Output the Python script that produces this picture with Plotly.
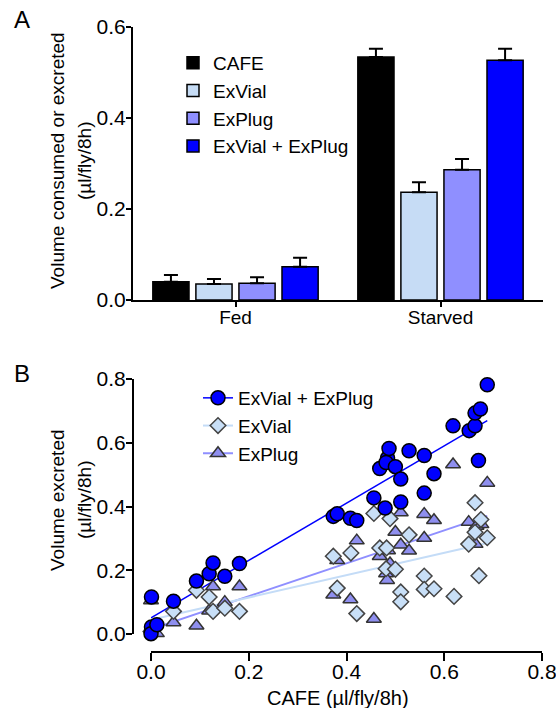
import numpy as np
import plotly.graph_objects as go

W, H = 556, 708
FONT = "Arial, Liberation Sans, Helvetica, sans-serif"

# ---------------- Panel A data ----------------
groups = ["Fed", "Starved"]
bar_series = ["CAFE", "ExVial", "ExPlug", "ExVial + ExPlug"]
cafe_mean = [0.040, 0.534]
cafe_err = [0.015, 0.018]
exvial_mean = [0.035, 0.237]
exvial_err = [0.011, 0.022]
explug_mean = [0.037, 0.286]
explug_err = [0.013, 0.024]
combo_mean = [0.073, 0.527]
combo_err = [0.020, 0.025]
bar_colors = ["#000000", "#c6dcf5", "#8f8fff", "#0000ff"]

# ---------------- Panel B data ----------------
combo_x = [0.001, 0.001, 0.0, 0.012, 0.046, 0.093, 0.119, 0.127, 0.151, 0.181,
           0.373, 0.381, 0.408, 0.421, 0.456, 0.479, 0.511, 0.468, 0.484, 0.481,
           0.487, 0.500, 0.511, 0.528, 0.559, 0.559, 0.579, 0.618, 0.651, 0.663,
           0.663, 0.674, 0.670, 0.688]
combo_y = [0.116, 0.022, 0.001, 0.029, 0.103, 0.166, 0.189, 0.223, 0.181, 0.221,
           0.369, 0.377, 0.363, 0.356, 0.427, 0.395, 0.414, 0.519, 0.552, 0.538,
           0.582, 0.525, 0.486, 0.575, 0.560, 0.442, 0.503, 0.653, 0.638, 0.653,
           0.693, 0.706, 0.544, 0.782]
vial_x = [0.0, 0.003, 0.046, 0.093, 0.119, 0.127, 0.151, 0.181, 0.373, 0.381,
          0.409, 0.421, 0.456, 0.468, 0.482, 0.481, 0.489, 0.500, 0.511, 0.511,
          0.528, 0.559, 0.559, 0.579, 0.620, 0.650, 0.663, 0.663, 0.671, 0.675,
          0.688]
vial_y = [0.008, 0.015, 0.071, 0.137, 0.116, 0.071, 0.081, 0.071, 0.244, 0.144,
          0.254, 0.064, 0.378, 0.270, 0.270, 0.205, 0.362, 0.203, 0.132, 0.101,
          0.311, 0.182, 0.140, 0.142, 0.118, 0.282, 0.319, 0.412, 0.183, 0.359,
          0.302]
plug_x = [0.0, 0.012, 0.046, 0.093, 0.119, 0.127, 0.151, 0.181, 0.373, 0.381,
          0.408, 0.421, 0.456, 0.468, 0.481, 0.483, 0.485, 0.489, 0.500, 0.511,
          0.511, 0.528, 0.559, 0.559, 0.579, 0.618, 0.650, 0.664, 0.666, 0.676,
          0.688]
plug_y = [0.105, 0.002, 0.036, 0.026, 0.073, 0.149, 0.100, 0.149, 0.123, 0.231,
          0.108, 0.293, 0.047, 0.244, 0.190, 0.169, 0.262, 0.221, 0.320, 0.381,
          0.280, 0.261, 0.376, 0.301, 0.357, 0.532, 0.351, 0.282, 0.339, 0.344,
          0.474]

a_yticks = [0.0, 0.2, 0.4, 0.6]
b_yticks = [0.0, 0.2, 0.4, 0.6, 0.8]
b_xticks = [0.0, 0.2, 0.4, 0.6, 0.8]

fig = go.Figure()

# ---- Panel A bars ----
for name, mean, err, col in zip(bar_series,
                                [cafe_mean, exvial_mean, explug_mean, combo_mean],
                                [cafe_err, exvial_err, explug_err, combo_err],
                                bar_colors):
    fig.add_trace(go.Bar(
        x=groups, y=mean, name=name, xaxis="x", yaxis="y",
        marker=dict(color=col, line=dict(color="#000000", width=1.5)),
        error_y=dict(type="data", symmetric=False, array=err,
                     arrayminus=[0] * len(err), color="#000000",
                     thickness=2, width=7),
        legend="legend",
    ))

# ---- Panel B scatter + fits ----
def fit_line(xs, ys):
    xs = np.asarray(xs); ys = np.asarray(ys)
    m, b = np.polyfit(xs, ys, 1)
    lx = np.array([xs.min(), xs.max()])
    return lx, m * lx + b

series_b = [
    ("ExPlug", plug_x, plug_y, "#8f8fef", "#8f8fff", "triangle-up", 13, "#333333", 2),
    ("ExVial", vial_x, vial_y, "#c8dff7", "#c4dcf7", "diamond", 12, "#444444", 2),
    ("ExVial + ExPlug", combo_x, combo_y, "#0000ff", "#0000ff", "circle", 14, "#000000", 1.5),
]
for name, xs, ys, fill, lcol, sym, size, ocol, lw in series_b:
    lx, ly = fit_line(xs, ys)
    fig.add_trace(go.Scatter(
        x=lx, y=ly, mode="lines", line=dict(color=lcol, width=lw),
        xaxis="x2", yaxis="y2", showlegend=False, hoverinfo="skip"))
for name, xs, ys, fill, lcol, sym, size, ocol, lw in series_b:
    fig.add_trace(go.Scatter(
        x=xs, y=ys, mode="markers", name=name, showlegend=False,
        marker=dict(symbol=sym, size=size, color=fill,
                    line=dict(color=ocol, width=1.5)),
        xaxis="x2", yaxis="y2", cliponaxis=False))
# legend entries (line + marker symbol) for panel B
for name, xs, ys, fill, lcol, sym, size, ocol, lw in reversed(series_b):
    fig.add_trace(go.Scatter(
        x=[None], y=[None], mode="lines+markers", name=name,
        marker=dict(symbol=sym, size=size, color=fill,
                    line=dict(color=ocol, width=1.5)),
        line=dict(color=lcol, width=lw),
        xaxis="x2", yaxis="y2", legend="legend2"))

def px(x):
    return x / W

def py(y):
    return 1 - y / H

def axis_common(ticklen=6, tsize=21, standoff=0):
    return dict(showgrid=False, zeroline=False, showline=True,
                automargin=False, ticklabelstandoff=standoff,
                linecolor="#000000", linewidth=2, ticks="outside",
                ticklen=ticklen, tickwidth=2, tickcolor="#000000",
                tickfont=dict(family=FONT, size=tsize, color="#000000"))

fig.update_layout(
    template="none",
    width=W, height=H,
    margin=dict(l=0, r=0, t=0, b=0, pad=0),
    paper_bgcolor="white", plot_bgcolor="white",
    font=dict(family=FONT, color="#000000", size=18),
    barmode="group", bargap=0.16, bargroupgap=0.16,
    xaxis=dict(domain=[px(133), px(543)], anchor="y", range=[-0.5, 1.5],
               **axis_common(ticklen=5, tsize=19, standoff=-6)),
    yaxis=dict(domain=[py(300), py(27)], anchor="x", range=[0, 0.6],
               tickvals=a_yticks, ticktext=[f"{v:.1f}" for v in a_yticks],
               **axis_common(ticklen=5, standoff=-4)),
    xaxis2=dict(domain=[px(151), px(542)], anchor="free", position=py(652),
                range=[0, 0.8], tickvals=b_xticks,
                ticktext=[f"{v:.1f}" for v in b_xticks],
                ticklabeloverflow="allow",
                **axis_common(ticklen=8, standoff=-7)),
    yaxis2=dict(domain=[py(634), py(379)], anchor="free", position=px(133),
                range=[0, 0.8], tickvals=b_yticks,
                ticktext=[f"{v:.1f}" for v in b_yticks],
                **axis_common(ticklen=6, standoff=-4)),
    legend=dict(x=px(173), y=py(44), xanchor="left", yanchor="top",
                bgcolor="rgba(0,0,0,0)", font=dict(family=FONT, size=19),
                traceorder="normal"),
    legend2=dict(x=px(198), y=py(379), xanchor="left", yanchor="top",
                 bgcolor="rgba(0,0,0,0)", font=dict(family=FONT, size=19),
                 traceorder="normal", itemwidth=30),
    annotations=[
        dict(text="A", x=px(22), y=py(20), xref="paper", yref="paper",
             xanchor="center", yanchor="middle",
             showarrow=False, font=dict(family=FONT, size=24)),
        dict(text="B", x=px(22), y=py(373), xref="paper", yref="paper",
             xanchor="center", yanchor="middle",
             showarrow=False, font=dict(family=FONT, size=24)),
        dict(text="Volume consumed or excreted", x=px(57), y=py(161),
             xref="paper", yref="paper", textangle=-90, showarrow=False,
             xanchor="center", yanchor="middle",
             font=dict(family=FONT, size=19)),
        dict(text="(µl/fly/8h)", x=px(84), y=py(161),
             xref="paper", yref="paper", textangle=-90, showarrow=False,
             xanchor="center", yanchor="middle",
             font=dict(family=FONT, size=19)),
        dict(text="Volume excreted", x=px(57), y=py(500),
             xref="paper", yref="paper", textangle=-90, showarrow=False,
             xanchor="center", yanchor="middle",
             font=dict(family=FONT, size=19)),
        dict(text="(µl/fly/8h)", x=px(84), y=py(500),
             xref="paper", yref="paper", textangle=-90, showarrow=False,
             xanchor="center", yanchor="middle",
             font=dict(family=FONT, size=19)),
        dict(text="CAFE (µl/fly/8h)", x=px(338), y=py(698),
             xref="paper", yref="paper", showarrow=False,
             xanchor="center", yanchor="middle",
             font=dict(family=FONT, size=20)),
    ],
)

fig.write_html("out.html")
